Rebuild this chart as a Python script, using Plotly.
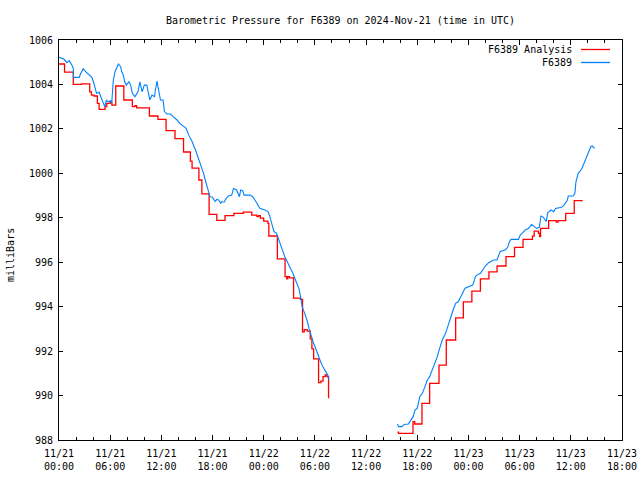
import pandas as pd
import plotly.graph_objects as go

BASE = "2024-11-21 00:00"
TITLE = "Barometric Pressure for F6389 on 2024-Nov-21 (time in UTC)"
Y_LABEL = "milliBars"
SERIES_NAMES = ["F6389 Analysis", "F6389"]

# hours since 2024-11-21 00:00 UTC; None marks the data gap
obs_hours = [0.0, 0.6, 0.93, 1.2, 1.5, 1.67, 1.7, 2.37, 2.56, 2.84, 3.15, 3.54, 3.85, 4.04, 4.2, 4.4,
             4.7, 4.9, 5.17, 5.36, 5.56, 5.75, 6.06, 6.18, 6.26, 6.37, 6.57, 6.84, 6.96, 7.23, 7.35,
             7.54, 7.7, 7.9, 8.2, 8.4, 8.6, 8.9, 9.25, 9.48, 9.75, 10.0, 10.3, 10.45, 10.65, 10.9,
             11.2, 11.3, 11.5, 11.6, 11.9, 12.2, 12.36, 12.67, 13.06, 13.37, 13.84, 14.15, 14.6, 14.9,
             15.2, 15.6, 16.0, 16.36, 16.75, 16.95, 17.14, 17.5, 17.7, 18.0, 18.3, 18.5, 18.7, 18.97,
             19.1, 19.36, 19.6, 19.86, 20.25, 20.45, 20.83, 21.15, 21.3, 21.53, 21.7, 22.39, 22.7,
             22.97, 23.24, 23.55, 24.13, 24.5, 24.72, 24.9, 25.2, 25.5, 25.7, 25.9, 26.2, 26.47,
             26.75, 26.98, 27.13, 27.37, 27.64, 27.91, 28.14, 28.34, 28.5, 28.8, 29.07, 29.3, 29.58,
             29.85, 30.16, 30.43, 30.67, 30.94, 31.25, 31.52, 31.64,
             35.0,
             39.68, 39.8, 40.2, 40.46, 40.96, 41.24, 41.51, 41.74, 42.0, 42.29, 42.6, 42.9, 43.18,
             43.45, 43.76, 44.04, 44.35, 44.62, 44.93, 45.32, 45.6, 45.9, 46.2, 46.5, 46.8, 47.1,
             47.35, 47.6, 48.0, 48.5, 48.82, 49.0, 49.4, 49.67, 49.98, 50.37, 50.95, 51.33, 51.73,
             52.3, 52.6, 52.8, 53.0, 53.87, 54.07, 54.45, 54.65, 55.04, 55.4, 55.73, 56.0, 56.3,
             56.5, 56.8, 57.0, 57.1, 57.3, 57.7, 58.0, 58.2, 58.92, 59.2, 59.6, 59.7, 60.28, 60.48,
             60.6, 60.87, 61.26, 61.65, 62.03, 62.34, 62.5, 62.8]
obs_mb = [1005.22, 1005.13, 1004.98, 1005.07, 1004.88, 1004.73, 1004.32, 1004.32, 1004.5, 1004.71,
          1004.57, 1004.45, 1004.32, 1004.12, 1003.9, 1003.6, 1003.65, 1003.45, 1003.15, 1003.0,
          1003.3, 1003.22, 1003.27, 1003.15, 1003.6, 1004.2, 1004.57, 1004.8, 1004.92, 1004.8,
          1004.57, 1004.42, 1004.12, 1003.97, 1004.12, 1003.97, 1003.6, 1003.45, 1003.67, 1004.12,
          1003.67, 1003.97, 1003.97, 1003.67, 1003.3, 1003.52, 1003.45, 1003.75, 1004.15, 1003.9,
          1003.3, 1003.3, 1002.78, 1002.67, 1002.67, 1002.55, 1002.4, 1002.25, 1002.1, 1002.03,
          1001.73, 1001.43, 1001.05, 1000.68, 1000.23, 1000.0, 999.7, 999.25, 998.95, 998.92,
          998.73, 998.83, 998.8, 998.65, 998.73, 998.7, 998.87, 998.98, 999.02, 999.32, 999.25,
          998.95, 999.25, 999.22, 999.02, 999.02, 998.95, 998.8, 998.62, 998.43, 998.35, 998.28,
          998.05, 997.75, 997.38, 997.3, 997.08, 996.93, 996.55, 996.25, 996.03, 995.8, 995.72,
          995.55, 995.3, 995.05, 994.8, 994.4, 994.0, 993.7, 993.4, 993.03, 992.65, 992.35, 992.05,
          991.75, 991.52, 991.3, 991.07, 990.92, 990.7,
          None,
          988.72, 988.6, 988.6, 988.7, 988.72, 988.9, 989.05, 989.35, 989.43, 989.95, 990.1,
          990.4, 990.7, 990.85, 991.15, 991.37, 991.75, 992.12, 992.5, 992.8, 993.17, 993.55,
          993.85, 994.15, 994.22, 994.45, 994.63, 994.83, 994.9, 994.97, 995.35, 995.42, 995.5,
          995.65, 995.83, 995.98, 996.1, 996.1, 996.48, 996.55, 996.67, 996.92, 997.03, 997.03,
          997.22, 997.37, 997.45, 997.52, 997.7, 997.6, 997.52, 997.57, 998.08, 998.02, 997.9,
          997.83, 998.23, 998.35, 998.27, 998.42, 998.47, 998.57, 998.8, 998.98, 998.98, 999.1,
          999.62, 1000.0, 1000.18, 1000.52, 1000.9, 1001.2, 1001.23, 1001.12]

ana_hours = [0.0, 0.65, 1.67, 2.64, 3.6, 3.8, 4.1, 4.5, 4.7, 5.4, 5.6, 6.0, 6.2, 6.65, 7.6, 8.6,
             8.9, 9.1, 10.6, 11.6, 12.55, 13.6, 14.6, 15.4, 15.6, 16.4, 16.75, 17.6, 18.5, 19.46,
             20.5, 21.6, 22.6, 23.2, 23.4, 23.6, 24.0, 24.5, 24.6, 25.6, 26.5, 26.7, 26.8, 27.0,
             27.5, 28.3, 28.55, 28.75, 29.1, 29.45, 29.65, 29.85, 30.43, 30.7, 30.95, 31.2, 31.4,
             31.6,
             35.0,
             39.68, 39.8, 41.5, 41.7, 42.55, 43.45, 44.55, 45.4, 46.5, 47.4, 48.4, 49.4, 50.4,
             51.35, 52.4, 53.4, 54.4, 55.5, 55.7, 56.2, 56.35, 56.45, 57.4, 58.3, 58.5, 59.4,
             60.4, 61.4]
ana_mb = [1004.92, 1004.55, 1004.0, 1004.03, 1003.67, 1003.52, 1003.48, 1003.15, 1002.88, 1003.0,
          1003.15, 1003.22, 1003.07, 1003.93, 1003.3, 1003.0, 1003.05, 1002.95, 1002.58, 1002.43,
          1001.92, 1001.56, 1000.96, 1000.55, 1000.23, 999.7, 999.08, 998.15, 997.88, 998.1,
          998.2, 998.25, 998.12, 998.05, 998.1, 997.98, 997.85, 997.75, 997.18, 996.15, 995.35,
          995.25, 995.35, 995.3, 994.38, 994.33, 992.87, 992.97, 992.9, 992.55, 992.1, 991.65,
          990.58, 990.65, 990.85, 990.93, 990.85, 989.88,
          None,
          988.35, 988.3, 988.83, 988.72, 989.65, 990.55, 991.37, 992.5, 993.5, 994.22, 994.7,
          995.25, 995.57, 995.83, 996.25, 996.67, 997.03, 997.17, 997.4, 997.3, 997.15, 997.52,
          997.87, 997.8, 997.87, 998.2, 998.77, 998.77]

x_range_hours = [0, 66]
y_range = [988, 1006]
y_ticks = [988, 990, 992, 994, 996, 998, 1000, 1002, 1004, 1006]

RED = "#ff0000"
BLUE = "#0080ff"
FONT = "DejaVu Sans Mono"

base = pd.Timestamp(BASE)


def to_time(hours):
    return [base + pd.Timedelta(hours=h) for h in hours]


fig = go.Figure()
fig.add_trace(go.Scatter(x=to_time(ana_hours), y=ana_mb, mode="lines", line_shape="hv",
                         line=dict(color=RED, width=1.3), name=SERIES_NAMES[0],
                         connectgaps=False))
fig.add_trace(go.Scatter(x=to_time(obs_hours), y=obs_mb, mode="lines",
                         line=dict(color=BLUE, width=1.1), name=SERIES_NAMES[1],
                         connectgaps=False))

L, R, T, B = 59, 18, 40, 40
plot_w = 640 - L - R
plot_h = 480 - T - B

fig.update_layout(
    width=640, height=480,
    margin=dict(l=L, r=R, t=T, b=B, pad=0, autoexpand=False),
    paper_bgcolor="white", plot_bgcolor="white",
    font=dict(family=FONT, size=10, color="black"),
    showlegend=False,
    title=dict(text=TITLE, x=0.5, xref="paper", xanchor="center",
               y=1 - 20 / 480, yref="container", yanchor="middle",
               font=dict(family=FONT, size=10, color="black")),
)

fig.update_xaxes(
    type="date",
    automargin=False,
    range=to_time(x_range_hours),
    dtick=6 * 3600 * 1000,
    tick0=base,
    tickformat="%m/%d<br>%H:%M",
    ticks="inside", ticklen=5, tickcolor="black", tickwidth=1,
    ticklabelstandoff=4,
    minor=dict(dtick=2 * 3600 * 1000, ticks="inside", ticklen=3, tickcolor="black", showgrid=False),
    showline=True, linecolor="black", linewidth=1, mirror="ticks",
    showgrid=False, zeroline=False,
    tickfont=dict(family=FONT, size=10, color="black"),
)
fig.update_yaxes(
    automargin=False,
    range=y_range,
    tickvals=y_ticks,
    ticks="inside", ticklen=4, tickcolor="black", tickwidth=1,
    ticklabelstandoff=3,
    showline=True, linecolor="black", linewidth=1, mirror="ticks",
    showgrid=False, zeroline=False,
    tickfont=dict(family=FONT, size=10, color="black"),
)

# y-axis label
fig.add_annotation(text=Y_LABEL, xref="paper", yref="paper",
                   x=(10 - L) / plot_w, y=(440 - 255) / plot_h, textangle=-90,
                   showarrow=False, xanchor="center", yanchor="middle",
                   font=dict(family=FONT, size=10, color="black"))

# legend (text on the left, sample line on the right, gnuplot style)
legend_rows = [49.5, 62.5]
legend_colors = [RED, BLUE]
for name, color, row in zip(SERIES_NAMES, legend_colors, legend_rows):
    yp = (440 - row) / plot_h
    fig.add_annotation(text=name, xref="paper", yref="paper",
                       x=(574 - L) / plot_w, y=yp, showarrow=False,
                       xanchor="right", yanchor="middle",
                       font=dict(family=FONT, size=10, color="black"))
    fig.add_shape(type="line", xref="paper", yref="paper",
                  x0=(581 - L) / plot_w, x1=(610 - L) / plot_w, y0=yp, y1=yp,
                  line=dict(color=color, width=1.3))

fig.write_html("out.html",
               config={"displayModeBar": False, "staticPlot": True},
               post_script="document.body.style.margin='0';document.body.style.overflow='hidden';")
